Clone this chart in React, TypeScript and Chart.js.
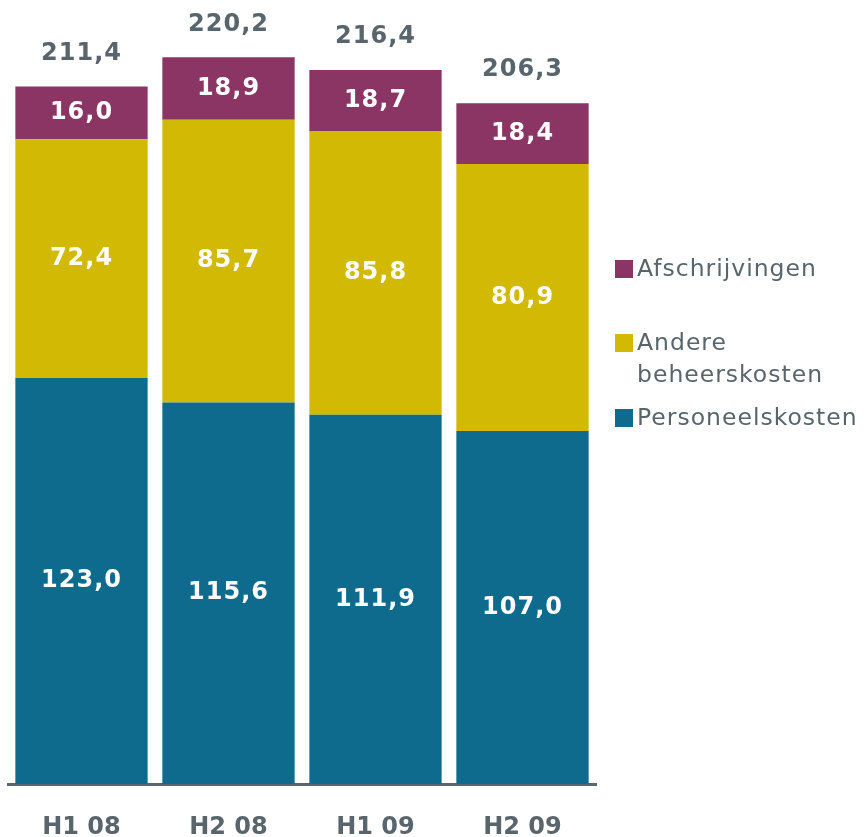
import React, { useEffect, useRef } from "react";
import { Chart, registerables } from "chart.js";
Chart.register(...registerables);

const categories = ["H1 08", "H2 08", "H1 09", "H2 09"];
const personeelskosten = [123.0, 115.6, 111.9, 107.0];
const andereBeheerskosten = [72.4, 85.7, 85.8, 80.9];
const afschrijvingen = [16.0, 18.9, 18.7, 18.4];
const totals = [211.4, 220.2, 216.4, 206.3];
const seriesNames = ["Personeelskosten", "Andere beheerskosten", "Afschrijvingen"];

const TEAL = "#0e6b8e";
const YELLOW = "#d1b904";
const PURPLE = "#8b3564";
const GREY = "#58656d";
const FONT = "'DejaVu Sans', sans-serif";

const fmt = (v: number) => v.toFixed(1).replace(".", ",");

const labelsPlugin = {
  id: "valueLabels",
  afterDatasetsDraw(chart: any) {
    const ctx = chart.ctx;
    ctx.save();
    ctx.textAlign = "center";
    ctx.textBaseline = "middle";
    ctx.font = `bold 24px ${FONT}`;
    try { (ctx as any).letterSpacing = "1px"; } catch (e) {}
    chart.data.datasets.forEach((ds: any, di: number) => {
      const meta = chart.getDatasetMeta(di);
      meta.data.forEach((el: any, i: number) => {
        ctx.fillStyle = "#ffffff";
        ctx.fillText(fmt(ds.data[i]), el.x, (el.y + el.base) / 2);
      });
    });
    const top = chart.getDatasetMeta(chart.data.datasets.length - 1);
    top.data.forEach((el: any, i: number) => {
      ctx.fillStyle = GREY;
      ctx.fillText(fmt(totals[i]), el.x, el.y - 33);
    });
    ctx.restore();
  },
};

export default function App() {
  const ref = useRef<HTMLCanvasElement>(null);
  useEffect(() => {
    if (!ref.current) return;
    const chart = new Chart(ref.current, {
      type: "bar",
      data: {
        labels: categories,
        datasets: [
          { label: seriesNames[0], data: personeelskosten, backgroundColor: TEAL },
          { label: seriesNames[1], data: andereBeheerskosten, backgroundColor: YELLOW },
          { label: seriesNames[2], data: afschrijvingen, backgroundColor: PURPLE },
        ],
      },
      options: {
        responsive: false,
        animation: false,
        devicePixelRatio: 1,
        layout: { padding: { left: 8, right: 271, top: 25, bottom: -35 } },
        datasets: { bar: { barPercentage: 0.9, categoryPercentage: 1.0 } },
        plugins: { legend: { display: false }, tooltip: { enabled: false } },
        scales: {
          x: {
            stacked: true,
            grid: { display: false, drawTicks: false },
            border: { display: true, color: "#5b676e", width: 3 },
            ticks: {
              color: GREY,
              padding: 32,
              font: { family: FONT, size: 24, weight: "bold", lineHeight: 1.0 },
            },
          },
          y: { stacked: true, display: false, min: 0, max: 230 },
        },
      },
      plugins: [labelsPlugin],
    });
    return () => chart.destroy();
  }, []);

  const legendText: React.CSSProperties = {
    position: "absolute",
    fontFamily: FONT,
    fontSize: 23.5,
    letterSpacing: "1px",
    color: GREY,
    lineHeight: "32px",
    whiteSpace: "nowrap",
  };
  const sq = (color: string, top: number): React.CSSProperties => ({
    position: "absolute",
    left: 615,
    top,
    width: 18,
    height: 18,
    background: color,
  });

  return (
    <div style={{ position: "absolute", left: 0, top: 0, width: 867, height: 837, overflow: "hidden" }}>
      <canvas ref={ref} width={867} height={837} style={{ display: "block" }} />
      <div style={sq(PURPLE, 260)} />
      <div style={{ ...legendText, left: 637, top: 252 }}>Afschrijvingen</div>
      <div style={sq(YELLOW, 334)} />
      <div style={{ ...legendText, left: 637, top: 326 }}>
        Andere
        <br />
        beheerskosten
      </div>
      <div style={sq(TEAL, 409)} />
      <div style={{ ...legendText, left: 637, top: 401 }}>Personeelskosten</div>
    </div>
  );
}
